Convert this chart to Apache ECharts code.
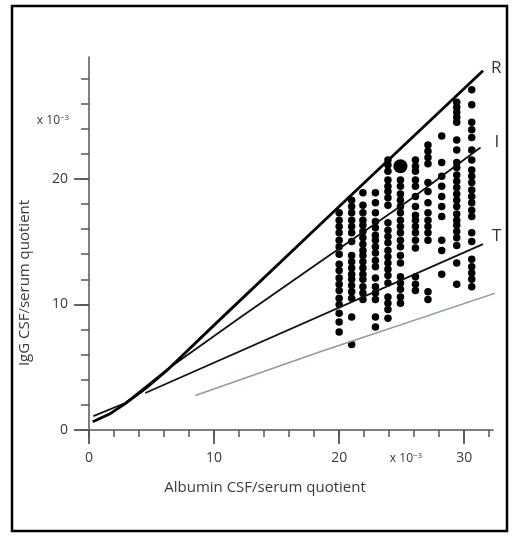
<!DOCTYPE html>
<html>
<head>
<meta charset="utf-8">
<script src="https://cdn.jsdelivr.net/npm/echarts@6/dist/echarts.min.js"></script>
<style>
  html, body { margin: 0; padding: 0; background: #fff; }
  #chart { width: 513px; height: 536px; }
</style>
</head>
<body>
<div id="chart"></div>
<script>
// Axis ticks and labels (x 10^-3)
const xMinorTicks = [0, 2, 4, 6, 8, 10, 12, 14, 16, 18, 20, 22, 24, 26, 28, 30, 32];
const xMajorTicks = [0, 10, 20, 30];
const yMinorTicks = [0, 2, 4, 6, 8, 10, 12, 14, 16, 18, 20, 22, 24, 26, 28];
const yMajorTicks = [0, 10, 20];

// Patient values: albumin quotient per column, IgG quotients in that column
const colX = [20.0, 21.0, 21.9, 22.9, 23.9, 24.9, 26.1, 27.1, 28.2, 29.4, 30.6];
const colY = [
  [17.3, 16.7, 16.2, 15.7, 15.1, 14.6, 14.0, 13.2, 12.7, 12.1, 11.6, 11.1, 10.5, 10.0, 9.3, 8.6, 7.8],
  [18.3, 17.8, 17.3, 16.7, 16.2, 15.7, 15.0, 13.9, 13.4, 12.9, 12.4, 12.0, 11.5, 11.0, 10.5, 9.0, 6.8],
  [18.9, 17.9, 17.3, 16.7, 16.3, 15.8, 15.3, 14.8, 14.3, 13.9, 13.4, 12.9, 12.4, 12.0, 11.4, 10.9, 10.4],
  [18.9, 18.1, 17.3, 16.6, 16.1, 15.5, 15.1, 14.6, 14.1, 13.5, 13.0, 12.1, 11.4, 10.9, 10.4, 9.0, 8.2],
  [21.5, 21.1, 20.6, 19.9, 19.4, 19.0, 18.5, 17.9, 16.5, 15.9, 15.4, 14.9, 14.3, 13.8, 13.3, 12.8, 12.3, 11.7, 10.6, 10.1, 9.6, 8.9],
  [19.9, 19.4, 18.8, 18.3, 17.8, 17.3, 16.7, 16.2, 15.7, 15.1, 14.6, 13.9, 13.3, 12.2, 11.7, 11.2, 10.6, 10.1],
  [21.5, 21.0, 20.6, 19.9, 19.4, 18.6, 17.8, 17.1, 16.7, 16.2, 15.7, 15.1, 14.5, 12.2, 11.6, 11.1],
  [22.7, 22.2, 21.7, 21.2, 19.7, 19.0, 18.1, 17.3, 16.7, 16.2, 15.7, 15.1, 11.0, 10.4],
  [23.4, 21.3, 20.2, 19.4, 18.6, 17.8, 17.0, 15.1, 14.3, 12.4],
  [26.1, 25.7, 25.3, 24.9, 24.5, 23.1, 22.3, 21.3, 20.9, 20.3, 19.8, 19.3, 18.8, 18.3, 17.8, 17.2, 16.7, 16.3, 15.8, 15.3, 14.7, 13.3, 11.6],
  [27.1, 25.9, 24.5, 23.9, 23.3, 22.3, 21.5, 20.7, 20.2, 19.7, 19.1, 18.6, 18.1, 17.5, 17.0, 15.7, 15.0, 13.6, 13.0, 12.5, 12.0, 11.4]
];
// Highlighted single patient
const bigPoint = [24.9, 21.0];

// Reference curves [albumin, IgG]
const curveR = [[0.3, 0.65], [1.6, 1.25], [2.9, 2.1], [4.5, 3.3], [6.35, 4.85], [10, 8.35], [20, 17.8], [31.5, 28.6]];
const curveI = [[0.35, 1.1], [2.9, 2.15], [6.35, 4.9], [12, 8.9], [18.48, 13.4], [25.68, 18.35], [31.3, 22.5]];
const curveT = [[4.5, 2.95], [31.5, 14.8]];
const curveLow = [[8.5, 2.75], [18.48, 6.23], [33.4, 11.2]];

const points = [];
colX.forEach((x, i) => colY[i].forEach(y => points.push([x, y])));

const FONT = 'Open Sans';
const TEXT = '#3a3a3a';
const AXIS = '#555';

const chart = echarts.init(document.getElementById('chart'), null, { renderer: 'canvas' });

const sideLabel = (txt, dx, dy) => ({
  show: true, formatter: txt, distance: 0, offset: [dx, dy],
  color: '#333', fontFamily: FONT, fontSize: 17
});

const superLabel = (x, y) => ({
  type: 'text', x: x, y: y,
  style: {
    text: '{a|x 10}{b|−3}', textAlign: 'center', textVerticalAlign: 'middle',
    rich: {
      a: { fontSize: 12, fontFamily: FONT, fill: TEXT, lineHeight: 14 },
      b: { fontSize: 8, fontFamily: FONT, fill: TEXT, verticalAlign: 'top', lineHeight: 14 }
    }
  }
});

chart.setOption({
  animation: false,
  backgroundColor: '#fff',
  grid: { left: 89, top: 57, right: 20, bottom: 106 },
  xAxis: [
    {
      type: 'value', min: 0, max: 32.3,
      axisLine: { show: true, lineStyle: { color: AXIS, width: 1.5 } },
      axisTick: { show: true, length: 7, customValues: xMinorTicks, lineStyle: { color: AXIS, width: 1.5 } },
      axisLabel: { show: false },
      splitLine: { show: false }
    },
    {
      type: 'value', min: 0, max: 32.3, position: 'bottom',
      axisLine: { show: false },
      axisTick: { show: true, length: 14, customValues: xMajorTicks, lineStyle: { color: AXIS, width: 1.8 } },
      axisLabel: { show: true, customValues: xMajorTicks, margin: 21, color: TEXT, fontFamily: FONT, fontSize: 14 },
      splitLine: { show: false }
    }
  ],
  yAxis: [
    {
      type: 'value', min: 0, max: 29.7,
      axisLine: { show: true, lineStyle: { color: AXIS, width: 1.5 } },
      axisTick: { show: true, length: 8, customValues: yMinorTicks, lineStyle: { color: AXIS, width: 1.5 } },
      axisLabel: { show: false },
      splitLine: { show: false }
    },
    {
      type: 'value', min: 0, max: 29.7, position: 'left',
      axisLine: { show: false },
      axisTick: { show: true, length: 15, customValues: yMajorTicks, lineStyle: { color: AXIS, width: 1.8 } },
      axisLabel: { show: true, customValues: yMajorTicks, margin: 21, color: TEXT, fontFamily: FONT, fontSize: 14 },
      splitLine: { show: false }
    }
  ],
  series: [
    {
      type: 'line', data: curveLow, symbol: 'none', clip: false,
      lineStyle: { color: '#8f9e9c', width: 1.6 }
    },
    {
      type: 'line', data: curveT, symbol: 'none',
      lineStyle: { color: '#111', width: 1.8 },
      endLabel: sideLabel('T', 9, -8)
    },
    {
      type: 'line', data: curveI, symbol: 'none',
      lineStyle: { color: '#111', width: 1.8 },
      endLabel: sideLabel('I', 14, -5)
    },
    {
      type: 'line', data: curveR, symbol: 'none',
      lineStyle: { color: '#000', width: 2.8 },
      endLabel: sideLabel('R', 8, -3)
    },
    {
      type: 'scatter', data: points, symbol: 'circle', symbolSize: 7.5,
      itemStyle: { color: '#000', opacity: 1 }
    },
    {
      type: 'scatter', data: [bigPoint], symbol: 'circle', symbolSize: 14,
      itemStyle: { color: '#000', opacity: 1 }
    }
  ],
  graphic: [
    {
      type: 'rect', z: 100, silent: true,
      shape: { x: 12, y: 6, width: 495, height: 525 },
      style: { fill: 'none', stroke: '#000', lineWidth: 2.5 }
    },
    {
      type: 'text', x: 265, y: 488,
      style: { text: 'Albumin CSF/serum quotient', fill: TEXT, font: '15px "Open Sans"', textAlign: 'center', textVerticalAlign: 'middle' }
    },
    {
      type: 'text', x: 25, y: 283, rotation: Math.PI / 2,
      style: { text: 'IgG CSF/serum quotient', fill: TEXT, font: '15px "Open Sans"', textAlign: 'center', textVerticalAlign: 'middle' }
    },
    superLabel(53, 121),
    superLabel(406, 459)
  ]
});
</script>
</body>
</html>
